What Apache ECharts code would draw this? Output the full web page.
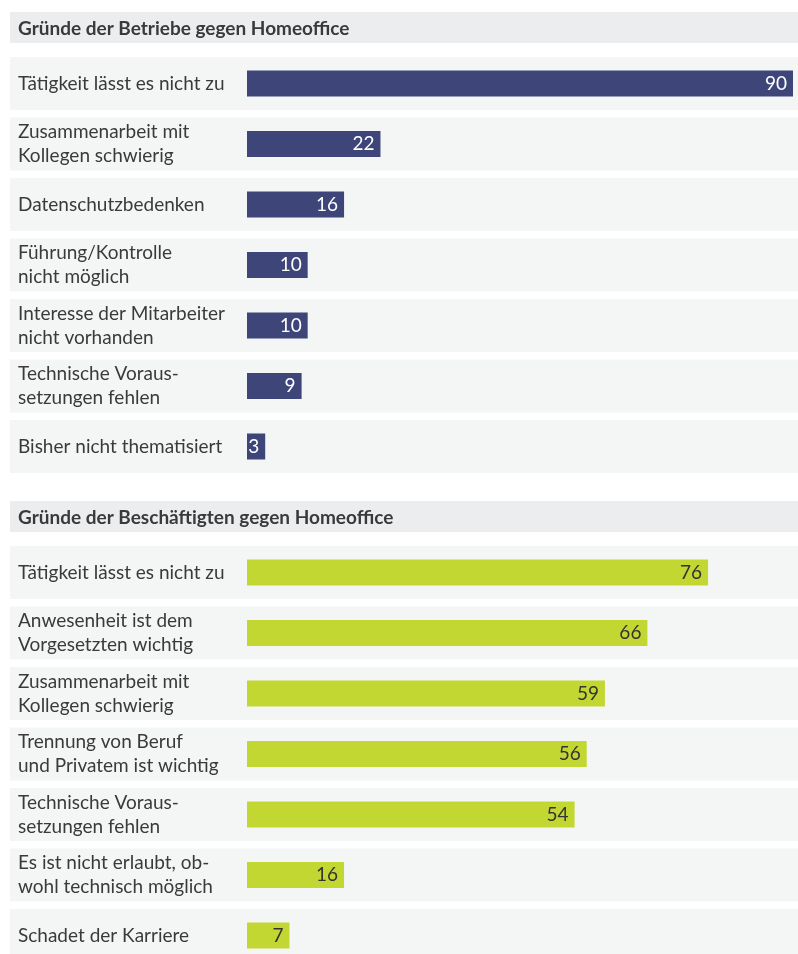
<!DOCTYPE html>
<html><head><meta charset="utf-8">
<script src="https://cdn.jsdelivr.net/npm/echarts@6/dist/echarts.min.js"></script>
<style>html,body{margin:0;padding:0;background:#fff;overflow:hidden}#c{width:798px;height:980px}</style>
</head><body><div id="c"></div>
<script>
const title1 = 'Gründe der Betriebe gegen Homeoffice';
const title2 = 'Gründe der Beschäftigten gegen Homeoffice';
const catsBetriebe = ['Tätigkeit lässt es nicht zu','Zusammenarbeit mit\nKollegen schwierig','Datenschutzbedenken','Führung/Kontrolle\nnicht möglich','Interesse der Mitarbeiter\nnicht vorhanden','Technische Voraus-\nsetzungen fehlen','Bisher nicht thematisiert'];
const valsBetriebe = [90,22,16,10,10,9,3];
const catsBesch = ['Tätigkeit lässt es nicht zu','Anwesenheit ist dem\nVorgesetzten wichtig','Zusammenarbeit mit\nKollegen schwierig','Trennung von Beruf\nund Privatem ist wichtig','Technische Voraus-\nsetzungen fehlen','Es ist nicht erlaubt, ob-\nwohl technisch möglich','Schadet der Karriere'];
const valsBesch = [76,66,59,56,54,16,7];

const FONT = 'Lato';
const TXT = '#3a3a3a';
const FS = 19;
const chart = echarts.init(document.getElementById('c'), null, {renderer:'canvas'});
const band = 60.5;
const g1top = 53.25, g2top = 542.25;
function yAx(idx, cats){
  return {type:'category', gridIndex:idx, inverse:true, data:cats,
    axisLine:{show:false}, axisTick:{show:false},
    axisLabel:{align:'left', margin:229, fontFamily:FONT, fontSize:FS, color:TXT, lineHeight:24, padding:[3,0,0,0]}};
}
function xAx(idx){
  return {type:'value', gridIndex:idx, min:0, max:90, show:false, splitLine:{show:false}};
}
const option = {
  animation:false,
  textStyle:{fontFamily:FONT},
  title:[
    {text:title1, left:18, top:19, padding:0, textStyle:{fontFamily:FONT, fontSize:FS, fontWeight:'bold', color:TXT}},
    {text:title2, left:18, top:508, padding:0, textStyle:{fontFamily:FONT, fontSize:FS, fontWeight:'bold', color:TXT}}
  ],
  grid:[
    {left:247, width:546, top:g1top, height:band*7},
    {left:247, width:546, top:g2top, height:band*7}
  ],
  xAxis:[xAx(0), xAx(1)],
  yAxis:[yAx(0, catsBetriebe), yAx(1, catsBesch)],
  series:[
    {type:'bar', xAxisIndex:0, yAxisIndex:0, data:valsBetriebe, barWidth:26, itemStyle:{color:'#3d4579'},
     label:{show:true, position:'insideRight', distance:6, padding:[2,0,0,0], color:'#ffffff', fontFamily:FONT, fontSize:FS}, z:5},
    {type:'bar', xAxisIndex:1, yAxisIndex:1, data:valsBesch, barWidth:26, itemStyle:{color:'#c3d733'},
     label:{show:true, position:'insideRight', distance:6, padding:[2,0,0,0], color:'#333333', fontFamily:FONT, fontSize:FS}, z:5}
  ]
};
chart.setOption(option);
const gfx = [
  {type:'rect', shape:{x:10, y:12, width:788, height:31}, style:{fill:'#ecedef'}, z:-10, silent:true},
  {type:'rect', shape:{x:10, y:501, width:788, height:31}, style:{fill:'#ecedef'}, z:-10, silent:true}
];
catsBetriebe.forEach((c,i)=>{
  const y = chart.convertToPixel({yAxisIndex:0}, i);
  gfx.push({type:'rect', shape:{x:10, y:y-26.5, width:788, height:53}, style:{fill:'#f4f6f6'}, z:-10, silent:true});
});
catsBesch.forEach((c,i)=>{
  const y = chart.convertToPixel({yAxisIndex:1}, i);
  gfx.push({type:'rect', shape:{x:10, y:y-26.5, width:788, height:53}, style:{fill:'#f4f6f6'}, z:-10, silent:true});
});
chart.setOption({graphic:gfx});
</script></body></html>
